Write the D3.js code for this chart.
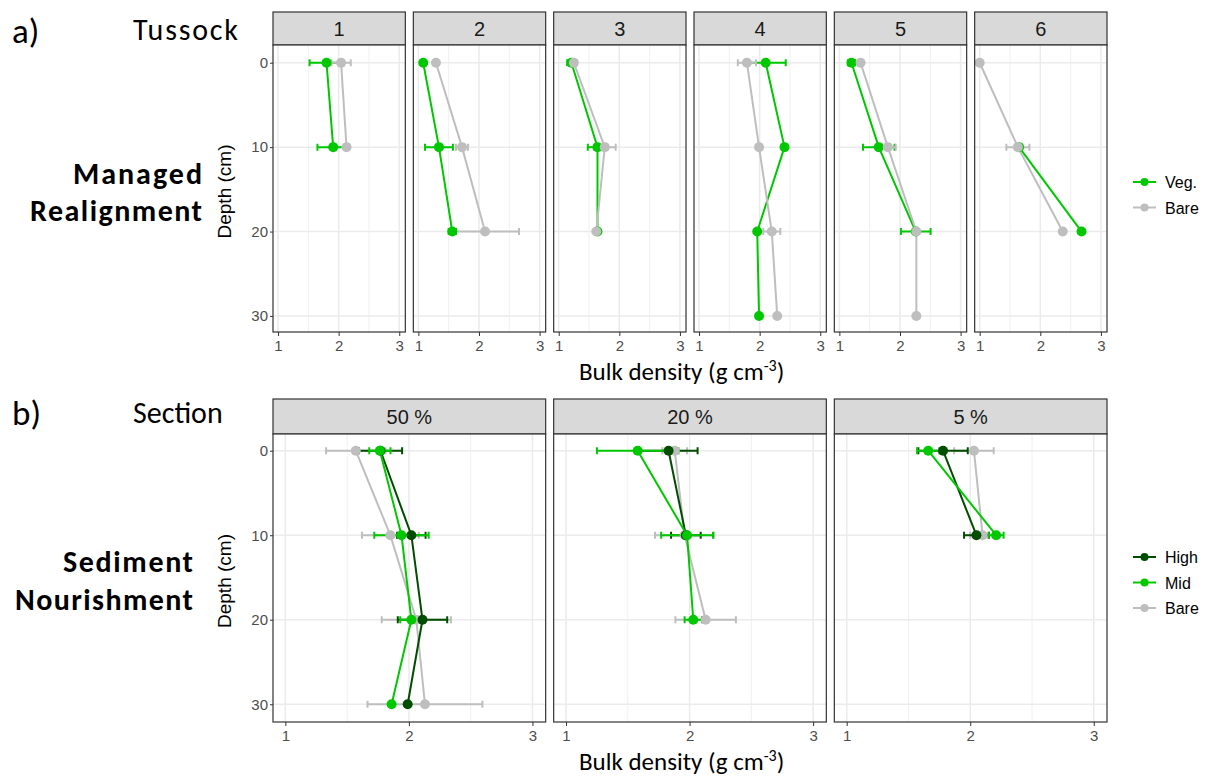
<!DOCTYPE html>
<html>
<head>
<meta charset="utf-8">
<script src="https://cdn.jsdelivr.net/npm/d3@7"></script>
<style>
  body { margin: 0; background: #fff; }
  svg { display: block; }
  .tick text { font-family: "Liberation Sans", Arial, sans-serif; font-size: 15px; fill: #4d4d4d; }
  .tick line { stroke: #333; }
</style>
</head>
<body>
<svg id="chart" width="1216" height="778"></svg>
<script>
// facet labels
const tussocks = ["1", "2", "3", "4", "5", "6"];
const sections = ["50 %", "20 %", "5 %"];
const depthTicks = [0, 10, 20, 30];
const densTicks = [1, 2, 3];

// rows: [facet, depth, mean, error]
const mrVeg = [
  ["1", 0, 1.80, 0.28], ["1", 10, 1.91, 0.26],
  ["2", 0, 1.08, 0], ["2", 10, 1.34, 0.23], ["2", 20, 1.56, 0.06],
  ["3", 0, 1.21, 0.07], ["3", 10, 1.64, 0.16], ["3", 20, 1.64, 0],
  ["4", 0, 2.10, 0.33], ["4", 10, 2.41, 0], ["4", 20, 1.96, 0], ["4", 30, 1.99, 0],
  ["5", 0, 1.20, 0.06], ["5", 10, 1.65, 0.26], ["5", 20, 2.26, 0.245],
  ["6", 10, 1.65, 0.05], ["6", 20, 2.68, 0]
];
const mrBare = [
  ["1", 0, 2.04, 0.16], ["1", 10, 2.13, 0.03],
  ["2", 0, 1.29, 0], ["2", 10, 1.72, 0.10], ["2", 20, 2.10, 0.56],
  ["3", 0, 1.25, 0.05], ["3", 10, 1.76, 0.18], ["3", 20, 1.62, 0],
  ["4", 0, 1.79, 0.15], ["4", 10, 1.99, 0], ["4", 20, 2.20, 0.14], ["4", 30, 2.29, 0],
  ["5", 0, 1.35, 0], ["5", 10, 1.80, 0.13], ["5", 20, 2.27, 0], ["5", 30, 2.27, 0],
  ["6", 0, 1.00, 0], ["6", 10, 1.63, 0.19], ["6", 20, 2.37, 0]
];

const snBare = [
  ["50 %", 0, 1.57, 0.24], ["50 %", 10, 1.85, 0.23], ["50 %", 20, 2.06, 0.28], ["50 %", 30, 2.13, 0.465],
  ["20 %", 0, 1.88, 0.10], ["20 %", 10, 1.96, 0.24], ["20 %", 20, 2.13, 0.245],
  ["5 %", 0, 2.03, 0.16], ["5 %", 10, 2.10, 0.10]
];
const snHigh = [
  ["50 %", 0, 1.77, 0.175], ["50 %", 10, 2.02, 0.115], ["50 %", 20, 2.11, 0.20], ["50 %", 30, 1.99, 0],
  ["20 %", 0, 1.83, 0.235], ["20 %", 10, 1.97, 0.12],
  ["5 %", 0, 1.78, 0.20], ["5 %", 10, 2.05, 0.10]
];
const snMid = [
  ["50 %", 0, 1.765, 0.086], ["50 %", 10, 1.94, 0.22], ["50 %", 20, 2.02, 0.09], ["50 %", 30, 1.86, 0],
  ["20 %", 0, 1.58, 0.33], ["20 %", 10, 1.98, 0.21], ["20 %", 20, 2.03, 0.07],
  ["5 %", 0, 1.66, 0.09], ["5 %", 10, 2.21, 0.06]
];

const cVeg = "#00c800", cHigh = "#004d00", cBare = "#bebebe";

const svg = d3.select("#chart");
const FONT = "'Liberation Sans', Arial, sans-serif";
const TITLE_FONT = "Carlito, Lato, 'Open Sans', sans-serif";

function facetBlock(cfg) {
  const n = cfg.facets.length;
  const gap = 8;
  const fw = (cfg.right - cfg.left - gap * (n - 1)) / n;
  const x = d3.scaleLinear().domain(cfg.xDomain).range([0, fw]);
  const y = d3.scaleLinear().domain(cfg.yDomain).range([cfg.plotTop, cfg.plotBottom]);

  cfg.facets.forEach((f, i) => {
    const g = svg.append("g").attr("transform", `translate(${cfg.left + i * (fw + gap)},0)`);

    // strip
    g.append("rect").attr("x", 0).attr("y", cfg.stripTop)
      .attr("width", fw).attr("height", cfg.plotTop - cfg.stripTop)
      .attr("fill", "#d9d9d9").attr("stroke", "#333").attr("stroke-width", 1.2);
    g.append("text").attr("x", fw / 2).attr("y", (cfg.stripTop + cfg.plotTop) / 2 + 7)
      .attr("text-anchor", "middle").attr("font-family", FONT).attr("font-size", 20)
      .attr("fill", "#1a1a1a").text(f);

    // panel background + grid
    g.append("rect").attr("x", 0).attr("y", cfg.plotTop).attr("width", fw)
      .attr("height", cfg.plotBottom - cfg.plotTop).attr("fill", "#fff");
    const minor = [1.5, 2.5];
    g.selectAll(".vminor").data(minor).join("line")
      .attr("x1", d => x(d)).attr("x2", d => x(d))
      .attr("y1", cfg.plotTop).attr("y2", cfg.plotBottom)
      .attr("stroke", "#f0f0f0").attr("stroke-width", 1);
    g.selectAll(".vmajor").data(densTicks).join("line")
      .attr("x1", d => x(d)).attr("x2", d => x(d))
      .attr("y1", cfg.plotTop).attr("y2", cfg.plotBottom)
      .attr("stroke", "#ebebeb").attr("stroke-width", 1.5);
    g.selectAll(".hmajor").data(depthTicks).join("line")
      .attr("x1", 0).attr("x2", fw)
      .attr("y1", d => y(d)).attr("y2", d => y(d))
      .attr("stroke", "#ebebeb").attr("stroke-width", 1.5);

    // series layers: error bars, lines, points
    const series = cfg.series.map(s => ({
      color: s.color,
      rows: s.data.filter(r => r[0] === f).map(r => ({ depth: r[1], mean: r[2], err: r[3] }))
    }));
    const capH = 3.5;
    series.forEach(s => {
      s.rows.filter(r => r.err > 0).forEach(r => {
        const yy = y(r.depth), x1 = x(r.mean - r.err), x2 = x(r.mean + r.err);
        g.append("path")
          .attr("d", `M${x1},${yy - capH}V${yy + capH}M${x1},${yy}H${x2}M${x2},${yy - capH}V${yy + capH}`)
          .attr("fill", "none").attr("stroke", s.color).attr("stroke-width", cfg.lw);
      });
    });
    const line = d3.line().x(r => x(r.mean)).y(r => y(r.depth));
    series.forEach(s => {
      g.append("path").datum(s.rows).attr("d", line)
        .attr("fill", "none").attr("stroke", s.color).attr("stroke-width", cfg.lw);
    });
    series.forEach(s => {
      g.selectAll(null).data(s.rows).join("circle")
        .attr("cx", r => x(r.mean)).attr("cy", r => y(r.depth)).attr("r", 5)
        .attr("fill", s.color);
    });

    // border
    g.append("rect").attr("x", 0).attr("y", cfg.plotTop).attr("width", fw)
      .attr("height", cfg.plotBottom - cfg.plotTop)
      .attr("fill", "none").attr("stroke", "#333").attr("stroke-width", 1.2);

    // axes
    const xa = g.append("g").attr("transform", `translate(0,${cfg.plotBottom})`)
      .call(d3.axisBottom(x).tickValues(densTicks).tickFormat(d3.format("d")).tickSize(4).tickPadding(4));
    xa.select(".domain").remove();
    if (i === 0) {
      const ya = g.append("g")
        .call(d3.axisLeft(y).tickValues(depthTicks).tickSize(3).tickPadding(2));
      ya.select(".domain").remove();
    }
  });

  // axis titles
  svg.append("text")
    .attr("transform", `translate(${cfg.left - 42},${(cfg.plotTop + cfg.plotBottom) / 2 + 3}) rotate(-90)`)
    .attr("text-anchor", "middle").attr("font-family", FONT).attr("font-size", 19)
    .attr("fill", "#000").text("Depth (cm)");
  const xt = svg.append("text").attr("x", 579).attr("y", cfg.plotBottom + 48)
    .attr("font-family", TITLE_FONT).attr("font-size", 25).attr("fill", "#000");
  xt.append("tspan").text("Bulk density (g cm");
  xt.append("tspan").attr("dy", -9).attr("font-size", 16).text("-3");
  xt.append("tspan").attr("dy", 9).text(")");

  // legend
  cfg.legend.forEach((l, k) => {
    const ly = cfg.legendY + k * 25.5;
    svg.append("line").attr("x1", 1133).attr("x2", 1156).attr("y1", ly).attr("y2", ly)
      .attr("stroke", l.color).attr("stroke-width", 2);
    svg.append("circle").attr("cx", 1144.5).attr("cy", ly).attr("r", 4).attr("fill", l.color);
    svg.append("text").attr("x", 1165).attr("y", ly + 6).attr("font-family", FONT)
      .attr("font-size", 16).attr("fill", "#000").text(l.name);
  });
}

facetBlock({
  facets: tussocks, left: 273, right: 1107,
  stripTop: 12, plotTop: 45, plotBottom: 332,
  xDomain: [0.917, 3.1], yDomain: [-2.1, 31.9], lw: 2,
  series: [{ data: mrVeg, color: cVeg }, { data: mrBare, color: cBare }],
  legend: [{ name: "Veg.", color: cVeg }, { name: "Bare", color: cBare }],
  legendY: 182
});

facetBlock({
  facets: sections, left: 273, right: 1107,
  stripTop: 399, plotTop: 434, plotBottom: 722,
  xDomain: [0.9, 3.107], yDomain: [-1.98, 32.1], lw: 2,
  series: [{ data: snBare, color: cBare }, { data: snHigh, color: cHigh }, { data: snMid, color: cVeg }],
  legend: [{ name: "High", color: cHigh }, { name: "Mid", color: cVeg }, { name: "Bare", color: cBare }],
  legendY: 557
});

// side labels (len = measured width in the reference, stretched only where set)
const side = [
  { t: "a)", x: 12, y: 43, size: 35, w: "normal", len: null },
  { t: "Tussock", x: 133, y: 40, size: 30, w: "normal", len: 105 },
  { t: "Managed", x: 73, y: 184, size: 30, w: "bold", len: 129 },
  { t: "Realignment", x: 30, y: 221, size: 30, w: "bold", len: 172 },
  { t: "b)", x: 12, y: 425, size: 35, w: "normal", len: null },
  { t: "Section", x: 133, y: 423, size: 30, w: "normal", len: null },
  { t: "Sediment", x: 63, y: 572, size: 30, w: "bold", len: 130 },
  { t: "Nourishment", x: 15, y: 610, size: 30, w: "bold", len: 178 }
];
const sideText = svg.selectAll(".side").data(side).join("text")
  .attr("x", d => d.x).attr("y", d => d.y)
  .attr("font-family", TITLE_FONT).attr("font-size", d => d.size)
  .attr("font-weight", d => d.w).attr("fill", "#000")
  .text(d => d.t);
sideText.filter(d => d.len).attr("textLength", d => d.len).attr("lengthAdjust", "spacing");
</script>
</body>
</html>
